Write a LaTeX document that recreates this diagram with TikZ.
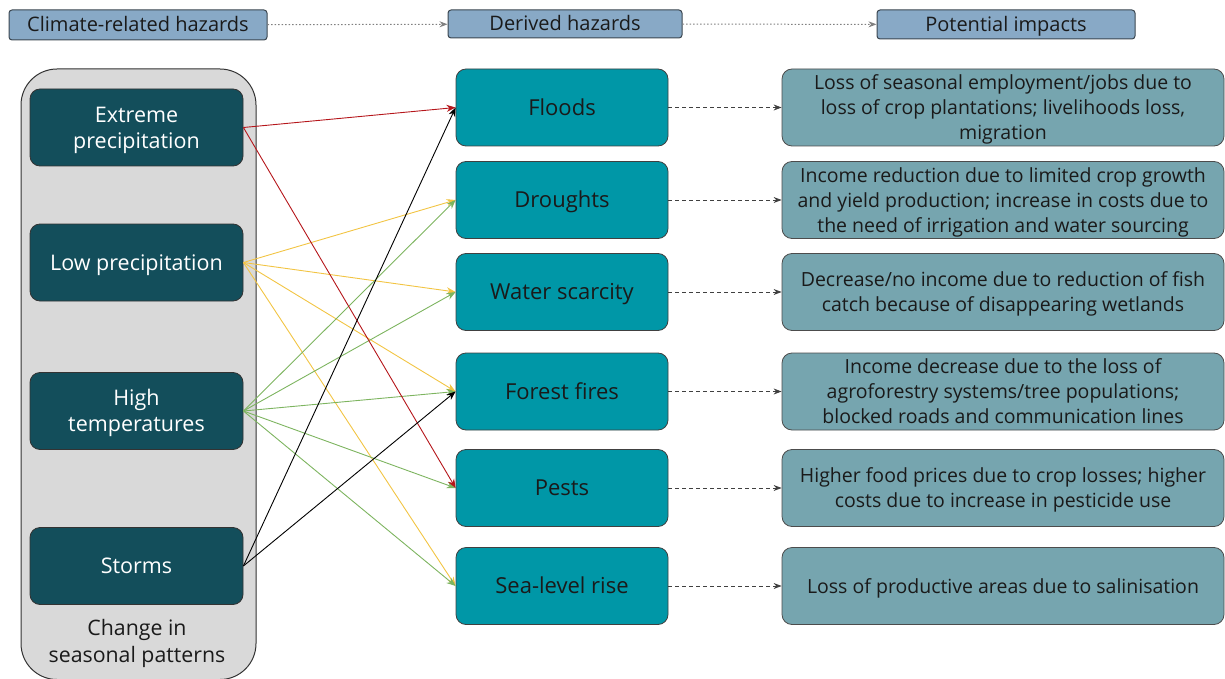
\documentclass[tikz,border=0pt]{standalone}
\usepackage{fontspec}
\setmainfont{Open Sans}
\usetikzlibrary{arrows.meta}
\definecolor{hdrfill}{HTML}{88A9C6}
\definecolor{hdrline}{HTML}{3B4650}
\definecolor{panelfill}{HTML}{D9D9D9}
\definecolor{darkbox}{HTML}{134E5B}
\definecolor{tealbox}{HTML}{0097A7}
\definecolor{impactbox}{HTML}{76A5AF}
\definecolor{txtdark}{HTML}{1A1A1A}
\definecolor{linkred}{HTML}{B5161B}
\definecolor{linkyellow}{HTML}{F2C443}
\definecolor{linkgreen}{HTML}{7DB45F}
\begin{document}
\begin{tikzpicture}[x=1pt,y=-1pt,
  every node/.style={inner sep=2pt, align=center},
  % fixed text box: centres the block of lines optically inside its box
  th/.style={text depth=0pt, text height=#1pt},
  header/.style={draw=hdrline, fill=hdrfill, line width=1pt, rounded corners=3pt,
    text=txtdark, font=\fontsize{20}{22}\selectfont, inner ysep=0pt, th=13.4},
  hazard/.style={draw=black!80, fill=darkbox, line width=0.8pt, rounded corners=10pt,
    minimum width=213pt, minimum height=77pt, text=white,
    font=\fontsize{21.5}{26}\selectfont, th=15.3},
  derived/.style={draw=black!75, fill=tealbox, line width=0.8pt, rounded corners=10pt,
    minimum width=212pt, minimum height=77pt, text=txtdark,
    font=\fontsize{22}{26}\selectfont, th=15.6},
  impact/.style={draw=black!70, fill=impactbox, line width=0.8pt, rounded corners=10pt,
    minimum width=442pt, minimum height=77pt, text=txtdark,
    font=\fontsize{19.5}{25}\selectfont, th=14.1},
  link/.style={line width=0.9pt, -{Stealth[length=9pt,width=7pt]}},
  dashlink/.style={draw=black!75, line width=0.9pt, dashed, dash pattern=on 4pt off 3pt,
    -{Stealth[length=8pt,width=6pt]}},
  dotlink/.style={draw=black!50, line width=1pt, dash pattern=on 1.5pt off 2pt,
    -{Stealth[length=8pt,width=6pt]}}
]
\useasboundingbox (0,0) rectangle (1225,679);

% column headers
\node[header, minimum width=258pt, minimum height=30pt] (h1) at (138,25) {Climate-related hazards};
\node[header, minimum width=234pt, minimum height=28pt] (h2) at (565,24) {Derived hazards};
\node[header, minimum width=258pt, minimum height=29pt] (h3) at (1006,24.5) {Potential impacts};
\draw[dotlink] (h1) -- (h2);
\draw[dotlink] (h2) -- (h3);

% grouping panel for the climate-related hazards
\draw[fill=panelfill, draw=black!80, line width=1pt, rounded corners=36pt] (21,69) rectangle (256,679.5);
\node[font=\fontsize{21.3}{27}\selectfont, text=txtdark, th=40.2] (season) at (137,642.5) {Change in\\seasonal patterns};

% climate-related hazards
\node[hazard, th=41.3] (ext) at (136.5,127.5) {Extreme\\precipitation};
\node[hazard] (low) at (136.5,262.5) {Low precipitation};
\node[hazard, th=41.3] (high) at (136.5,411) {High\\temperatures};
\node[hazard] (storm) at (136.5,566) {Storms};

% derived hazards
\node[derived] (flood) at (562,107.5) {Floods};
\node[derived] (drought) at (562,200) {Droughts};
\node[derived] (water) at (562,292) {Water scarcity};
\node[derived] (fire) at (562,391.5) {Forest fires};
\node[derived] (pest) at (562,488) {Pests};
\node[derived] (sea) at (562,586) {Sea-level rise};

% potential impacts
\node[impact, th=64.1] (i1) at (1003,107.5) {Loss of seasonal employment/jobs due to\\loss of crop plantations; livelihoods loss,\\migration};
\node[impact, th=64.1] (i2) at (1003,200) {Income reduction due to limited crop growth\\and yield production; increase in costs due to\\the need of irrigation and water sourcing};
\node[impact, th=39.1] (i3) at (1003,292) {Decrease/no income due to reduction of fish\\catch because of disappearing wetlands};
\node[impact, th=64.1] (i4) at (1003,391.5) {Income decrease due to the loss of\\agroforestry systems/tree populations;\\blocked roads and communication lines};
\node[impact, th=39.1] (i5) at (1003,488) {Higher food prices due to crop losses; higher\\costs due to increase in pesticide use};
\node[impact] (i6) at (1003,586) {Loss of productive areas due to salinisation};

% derived hazard -> impact
\foreach \a/\b in {flood/i1, drought/i2, water/i3, fire/i4, pest/i5, sea/i6}
  \draw[dashlink] (\a.east) -- (\b.west);

% low precipitation links
\foreach \t in {drought, water, fire, sea}
  \draw[link, linkyellow] (low.east) -- (\t.west);
% high temperature links
\foreach \t in {drought, water, fire, pest, sea}
  \draw[link, linkgreen] (high.east) -- (\t.west);
% extreme precipitation links
\foreach \t in {flood, pest}
  \draw[link, linkred] (ext.east) -- (\t.west);
% storm links
\foreach \t in {flood, fire}
  \draw[link, black] (storm.east) -- (\t.west);
\end{tikzpicture}
\end{document}
